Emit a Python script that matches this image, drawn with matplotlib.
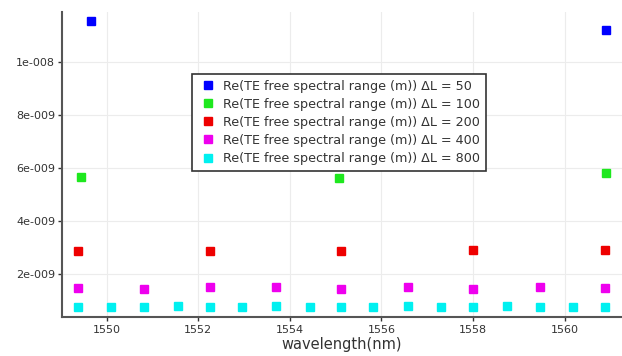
import matplotlib
matplotlib.use("Agg")
import matplotlib.pyplot as plt
from matplotlib.ticker import FuncFormatter

# wavelength (nm) and FSR (m) for each path-length difference
wl_50 = [1549.66, 1560.89]
fsr_50 = [11.54e-9, 11.21e-9]

wl_100 = [1549.45, 1555.07, 1560.89]
fsr_100 = [5.68e-9, 5.64e-9, 5.83e-9]

wl_200 = [1549.38, 1552.25, 1555.11, 1558.00, 1560.88]
fsr_200 = [2.89e-9, 2.89e-9, 2.89e-9, 2.92e-9, 2.93e-9]

wl_400 = [1549.38, 1550.81, 1552.25, 1553.70, 1555.11, 1556.57, 1558.00, 1559.46, 1560.88]
fsr_400 = [1.49e-9, 1.45e-9, 1.51e-9, 1.53e-9, 1.45e-9, 1.53e-9, 1.45e-9, 1.53e-9, 1.49e-9]

wl_800 = [1549.38, 1550.10, 1550.81, 1551.55, 1552.25, 1552.96, 1553.70, 1554.43, 1555.11,
          1555.82, 1556.57, 1557.29, 1558.00, 1558.75, 1559.46, 1560.17, 1560.88]
fsr_800 = [0.76e-9, 0.76e-9, 0.76e-9, 0.80e-9, 0.76e-9, 0.76e-9, 0.80e-9, 0.76e-9, 0.76e-9,
           0.76e-9, 0.80e-9, 0.76e-9, 0.76e-9, 0.80e-9, 0.76e-9, 0.76e-9, 0.76e-9]

delta_L = [50, 100, 200, 400, 800]
colors = ["#0000ff", "#1ee81e", "#ee0000", "#ee00ee", "#00f0f0"]
series = [(wl_50, fsr_50), (wl_100, fsr_100), (wl_200, fsr_200),
          (wl_400, fsr_400), (wl_800, fsr_800)]


def sci_fmt(v, pos):
    # 1e-008 style labels
    m, e = f"{v:.0e}".split("e")
    sign = "-" if int(e) < 0 else "+"
    return f"{m}e{sign}{abs(int(e)):03d}"


fig = plt.figure(figsize=(6.22, 3.56), dpi=100)
ax = fig.add_axes([0.1, 0.11, 0.9, 0.856])

for (x, y), dl, c in zip(series, delta_L, colors):
    ax.plot(x, y, ls="none", marker="s", ms=5.8, color=c, mec=c,
            label=f"Re(TE free spectral range (m)) \u0394L = {dl}")

ax.set_xlim(1549.03, 1561.25)
ax.set_ylim(0.4e-9, 11.88e-9)
ax.set_xticks([1550, 1552, 1554, 1556, 1558, 1560])
ax.set_yticks([2e-9, 4e-9, 6e-9, 8e-9, 10e-9])
ax.yaxis.set_major_formatter(FuncFormatter(sci_fmt))

ax.grid(True, color="#ececec", lw=0.8)
ax.set_axisbelow(True)
for s in ("top", "right"):
    ax.spines[s].set_visible(False)
for s in ("left", "bottom"):
    ax.spines[s].set_color("#555555")
    ax.spines[s].set_linewidth(1.5)
ax.tick_params(colors="#333333", labelsize=8, length=3, width=1, pad=2)
ax.tick_params(axis="x", pad=3)
ax.set_xlabel("wavelength(nm)", fontsize=10.5, color="#333333", labelpad=1)

leg = ax.legend(loc="upper left", bbox_to_anchor=(0.232, 0.797), fontsize=9.2,
                frameon=True, fancybox=False, framealpha=1, borderpad=0.44,
                handlelength=1.6, handletextpad=0.4, labelspacing=0.4,
                borderaxespad=0)
leg.get_frame().set_edgecolor("#333333")
leg.get_frame().set_linewidth(1.2)
for t in leg.get_texts():
    t.set_color("#333333")

fig.savefig("out.png", dpi=100)
